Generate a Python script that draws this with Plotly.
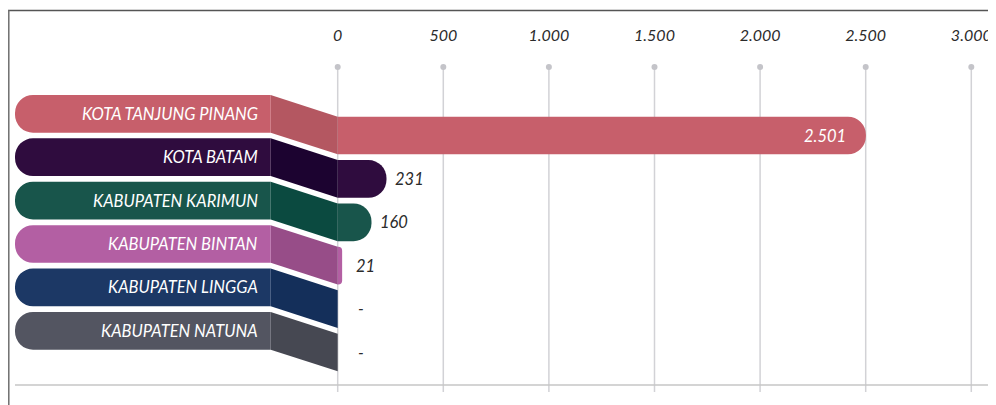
import plotly.graph_objects as go

# ---------------- data ----------------
categories = ["KOTA TANJUNG PINANG", "KOTA BATAM", "KABUPATEN KARIMUN",
              "KABUPATEN BINTAN", "KABUPATEN LINGGA", "KABUPATEN NATUNA"]
values = [2501, 231, 160, 21, None, None]
value_labels = ["2.501", "231", "160", "21", "-", "-"]
tick_values = [0, 500, 1000, 1500, 2000, 2500, 3000]
tick_labels = ["0", "500", "1.000", "1.500", "2.000", "2.500", "3.000"]

pill_colors = ["#C75F6B", "#2F0C3E", "#18554B", "#B35FA3", "#1C3865", "#535561"]
connector_colors = ["#B45761", "#1C0330", "#0B4A40", "#974D88", "#142F5A", "#464852"]

# ---------------- layout geometry (page pixels) ----------------
OFF = 8                    # page body margin
W, H = 996 - OFF, 405 - OFF
PX_PER_UNIT = 0.2112       # pixels per data unit on x
X0_PX = 337.7              # page pixel of x = 0
ROW_PX = 43.4              # pixel spacing of rows
ROW0_PX = 113.8            # page pixel centre of first label row
PILL_L, PILL_R = 15.0, 270.7
FONT = "Lato"


def xd(px):
    return (px - X0_PX) / PX_PER_UNIT


def yd(px):
    return (px - ROW0_PX) / ROW_PX


x_range = [xd(OFF), xd(OFF + W)]
y_range = [yd(OFF + H), yd(OFF)]
x2_range = [OFF - PILL_R, OFF + W - PILL_R]   # pixel axis, 0 at pill right edge
bar_w = 37.7 / ROW_PX
half = bar_w / 2
pill_right = xd(PILL_R)
rows = list(range(len(categories)))

fig = go.Figure()

# connectors (between label pill and data bar)
for i in rows:
    fig.add_trace(go.Scatter(
        x=[pill_right, 0, 0, pill_right, pill_right],
        y=[i - half, i + 0.5 - half, i + 0.5 + half, i + half, i - half],
        mode="lines", fill="toself", fillcolor=connector_colors[i],
        line=dict(width=0, color=connector_colors[i]),
        hoverinfo="skip", showlegend=False))

# label pills (rounded at left end) on a pixel x-axis
fig.add_trace(go.Bar(
    orientation="h", y=rows, x=[-(PILL_R - PILL_L)] * len(rows), width=bar_w,
    xaxis="x2", yaxis="y",
    marker=dict(color=pill_colors, cornerradius="50%", line=dict(width=0)),
    hoverinfo="skip", showlegend=False))

# data bars
bar_y = [i + 0.5 for i, v in zip(rows, values) if v]
bar_x = [v for v in values if v]
bar_c = [pill_colors[i] for i, v in zip(rows, values) if v]
fig.add_trace(go.Bar(
    orientation="h", y=bar_y, x=bar_x, width=bar_w,
    marker=dict(color=bar_c, cornerradius="50%", line=dict(width=0)),
    hoverinfo="skip", showlegend=False))

# tick dots
fig.add_trace(go.Scatter(
    x=tick_values, y=[yd(67)] * len(tick_values), mode="markers",
    marker=dict(size=6, color="#C4C4C9"), hoverinfo="skip", showlegend=False))

# tick labels
fig.add_trace(go.Scatter(
    x=tick_values, y=[yd(37)] * len(tick_values), mode="text",
    text=tick_labels, textposition="middle center",
    textfont=dict(family=FONT, size=16, color="#2B2B2B", style="italic"),
    hoverinfo="skip", showlegend=False))

shapes = []
for t in tick_values:
    shapes.append(dict(type="line", xref="x", yref="y", x0=t, x1=t,
                       y0=yd(67), y1=yd(392), layer="below",
                       line=dict(color="#D2D2D6", width=1.5)))
# bottom baseline
shapes.append(dict(type="line", xref="x", yref="y", x0=xd(15), x1=xd(OFF + W),
                   y0=yd(385), y1=yd(385), layer="below",
                   line=dict(color="#C6C6C6", width=1.5)))
# frame
shapes.append(dict(type="line", xref="paper", yref="paper", x0=0, x1=1,
                   y0=1 - 2.5 / H, y1=1 - 2.5 / H,
                   line=dict(color="#555555", width=1.5)))
shapes.append(dict(type="line", xref="paper", yref="paper", x0=0.8 / W, x1=0.8 / W,
                   y0=1 - 2 / H, y1=0,
                   line=dict(color="#6E6E6E", width=1.5)))

annotations = []
for i in rows:
    annotations.append(dict(
        x=pill_right, y=i, xref="x", yref="y", text=categories[i],
        xanchor="right", yanchor="middle", xshift=-11, showarrow=False,
        font=dict(family=FONT, size=16.5, color="white", style="italic")))
    v = values[i] or 0
    if v * PX_PER_UNIT > 100:
        annotations.append(dict(
            x=v, y=i + 0.5, xref="x", yref="y", text=value_labels[i],
            xanchor="right", yanchor="middle", xshift=-18, showarrow=False,
            font=dict(family=FONT, size=16.5, color="white", style="italic")))
    else:
        annotations.append(dict(
            x=v, y=i + 0.5, xref="x", yref="y", text=value_labels[i],
            xanchor="center", yanchor="middle", xshift=23, showarrow=False,
            font=dict(family=FONT, size=16.5, color="#2B2B2B", style="italic")))

fig.update_layout(
    width=W, height=H, margin=dict(l=0, r=0, t=0, b=0),
    paper_bgcolor="white", plot_bgcolor="white",
    barmode="overlay", showlegend=False,
    xaxis=dict(range=x_range, visible=False, fixedrange=True),
    xaxis2=dict(range=x2_range, visible=False, fixedrange=True,
                overlaying="x", anchor="y"),
    yaxis=dict(range=y_range, visible=False, fixedrange=True),
    shapes=shapes, annotations=annotations,
)

fig.write_html("out.html")
